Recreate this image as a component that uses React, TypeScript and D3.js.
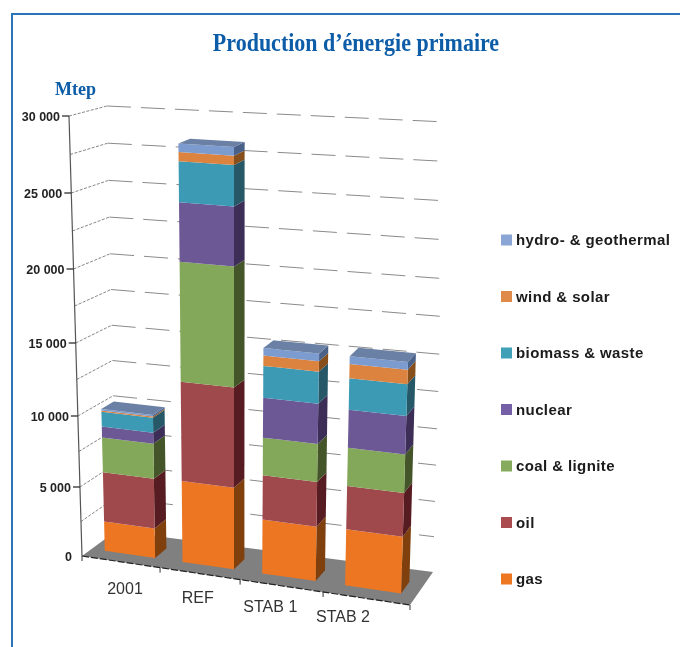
import React from "react";
import * as d3 from "d3";

const categories = ["2001", "REF", "STAB 1", "STAB 2"];
const seriesNames = ["gas", "oil", "coal & lignite", "nuclear", "biomass & waste", "wind & solar", "hydro- & geothermal"];
const gas = [2140, 5800, 3830, 3930];
const oil = [3570, 6870, 3080, 2980];
const coal = [2470, 8070, 2600, 2590];
const nuclear = [770, 3900, 2700, 2540];
const biomass = [1050, 2650, 2130, 2080];
const wind = [80, 600, 700, 950];
const hydro = [120, 550, 500, 500];
const valueTicks = [0, 5000, 10000, 15000, 20000, 25000, 30000];
const gridValues = [2500, 5000, 7500, 10000, 12500, 15000, 17500, 20000, 22500, 25000, 27500, 30000];

const frontColors = ["#ec7622", "#a04a4e", "#84a85a", "#6d5896", "#3c9ab5", "#dd8340", "#7c9cd0"];
const sideColors = ["#7f4010", "#571e20", "#44552a", "#3d2f58", "#265868", "#87501f", "#4a6088"];
const legendColors = ["#ee7722", "#a94c50", "#86ab5c", "#7560a8", "#3fa0b8", "#e08a4a", "#8ba6d4"];

type Pt = [number, number];
const FBL: Pt = [82, 556], FTL: Pt = [69, 116], FBR: Pt = [410, 605], FTR: Pt = [426, 140];
const BBL: Pt = [116, 531], BTL: Pt = [107, 106], BBR: Pt = [433, 572], BTR: Pt = [446, 122];

const uScale = d3.scaleLinear().domain([0, 1, 2, 3, 4]).range([0, 0.238, 0.482, 0.735, 1]);
const tScale = d3.scaleLinear().domain(valueTicks).range([0, 69 / 440, 140 / 440, 213 / 440, 287 / 440, 363 / 440, 1]);

const lerp = (a: Pt, b: Pt, f: number): Pt => [a[0] + (b[0] - a[0]) * f, a[1] + (b[1] - a[1]) * f];
function project(cat: number, depth: number, value: number): Pt {
  const u = uScale(cat), t = tScale(value);
  const fb = lerp(FBL, FBR, u), ft = lerp(FTL, FTR, u), bb = lerp(BBL, BBR, u), bt = lerp(BTL, BTR, u);
  return lerp(lerp(fb, ft, t), lerp(bb, bt, t), depth);
}
const poly = (pts: Pt[]) => pts.map((p) => p[0].toFixed(1) + "," + p[1].toFixed(1)).join(" ");
const line = d3.line<Pt>();

const D0 = 0.285, D1 = 0.64, B0 = 0.17, B1 = 0.82;
const stacked = d3.stack<number>().keys(["0", "1", "2", "3", "4", "5", "6"]).value((_, key) => [gas, oil, coal, nuclear, biomass, wind, hydro][+key][_])(categories.map((_, i) => i));

const legendY = d3.scalePoint<string>().domain([...seriesNames].reverse()).range([240, 579]);
const labelX = d3.scaleLinear().domain([0, 3]).range([125, 343]);
const labelY = d3.scaleLinear().domain([0, 3]).range([588, 616]);
const fmt = (v: number) => d3.format(",")(v).replace(",", " ");
const sans = "'Liberation Sans', Arial, sans-serif";
const serif = "'Liberation Serif', serif";

export default function App() {
  return (
    <svg width={680} height={647} style={{ position: "absolute", left: 0, top: 0, background: "#fff" }}>
      <defs>
        <filter id="soft" x="-5%" y="-5%" width="110%" height="110%">
          <feGaussianBlur stdDeviation="0.45" />
        </filter>
      </defs>
      <path d="M12,647V14H680" fill="none" stroke="#2b74b8" strokeWidth={2} />
      <g filter="url(#soft)">
        <text x={356} y={51} textAnchor="middle" fontFamily={serif} fontWeight="bold" fontSize={26} fill="#0b5ca8" transform="translate(356,0) scale(0.846,1) translate(-356,0)">Production d’énergie primaire</text>
        <text x={55} y={95} fontFamily={serif} fontWeight="bold" fontSize={18} fill="#0b5ca8">Mtep</text>

        <polygon points={poly([FBL, BBL, BBR, FBR])} fill="#808080" />

        {gridValues.map((v) => (
          <g key={v} fill="none">
            <path d={line([project(0, 0, v), project(0, 1, v)])!} stroke="#777" strokeWidth={0.9} strokeDasharray="3,1.5" />
            <path d={line([project(0, 1, v), project(4, 1, v)])!} stroke="#8a8a8a" strokeWidth={1} strokeDasharray="24,10" />
          </g>
        ))}

        <path d={line([FBL, FTL])!} stroke="#555" strokeWidth={1.2} fill="none" />
        <path d={line([FBL, FBR])!} stroke="#222" strokeWidth={1.2} strokeDasharray="7,2" fill="none" />
        {valueTicks.map((v) => {
          const p = project(0, 0, v);
          return (
            <g key={v}>
              {v > 0 && <line x1={p[0] - 7} x2={p[0]} y1={p[1]} y2={p[1]} stroke="#222" strokeWidth={1.2} />}
              <text x={p[0] - (v > 0 ? 9 : 10)} y={p[1] + 4.5} textAnchor="end" fontFamily={sans} fontWeight="bold" fontSize={12.5} fill="#222">{fmt(v)}</text>
            </g>
          );
        })}
        {[0, 1, 2, 3, 4].map((c) => {
          const p = project(c, 0, 0);
          return <line key={c} x1={p[0]} x2={p[0]} y1={p[1]} y2={p[1] + 5} stroke="#333" strokeWidth={1} />;
        })}
        {categories.map((c, i) => (
          <text key={c} x={labelX(i)} y={labelY(i) + 5.5} textAnchor="middle" fontFamily={sans} fontSize={16} fill="#333">{c}</text>
        ))}

        {categories.map((c, i) => (
          <g key={c}>
            {stacked.map((s, k) => {
              const [y0, y1] = s[i];
              return (
                <g key={k}>
                  <polygon points={poly([project(i + B1, D0, y0), project(i + B1, D1, y0), project(i + B1, D1, y1), project(i + B1, D0, y1)])} fill={sideColors[k]} />
                  <polygon points={poly([project(i + B0, D0, y0), project(i + B1, D0, y0), project(i + B1, D0, y1), project(i + B0, D0, y1)])} fill={frontColors[k]} />
                </g>
              );
            })}
            <polygon
              points={poly([
                project(i + B0, D0, stacked[6][i][1]),
                project(i + B1, D0, stacked[6][i][1]),
                project(i + B1, D1, stacked[6][i][1]),
                project(i + B0, D1, stacked[6][i][1]),
              ])}
              fill="#6a80a5"
            />
          </g>
        ))}

        {seriesNames.map((n, k) => (
          <g key={n}>
            <rect x={501} y={legendY(n)! - 5.5} width={11} height={11} fill={legendColors[k]} />
            <text x={516} y={legendY(n)! + 5} fontFamily={sans} fontWeight="bold" fontSize={15} letterSpacing={0.4} fill="#1a1a1a">{n}</text>
          </g>
        ))}
      </g>
    </svg>
  );
}
